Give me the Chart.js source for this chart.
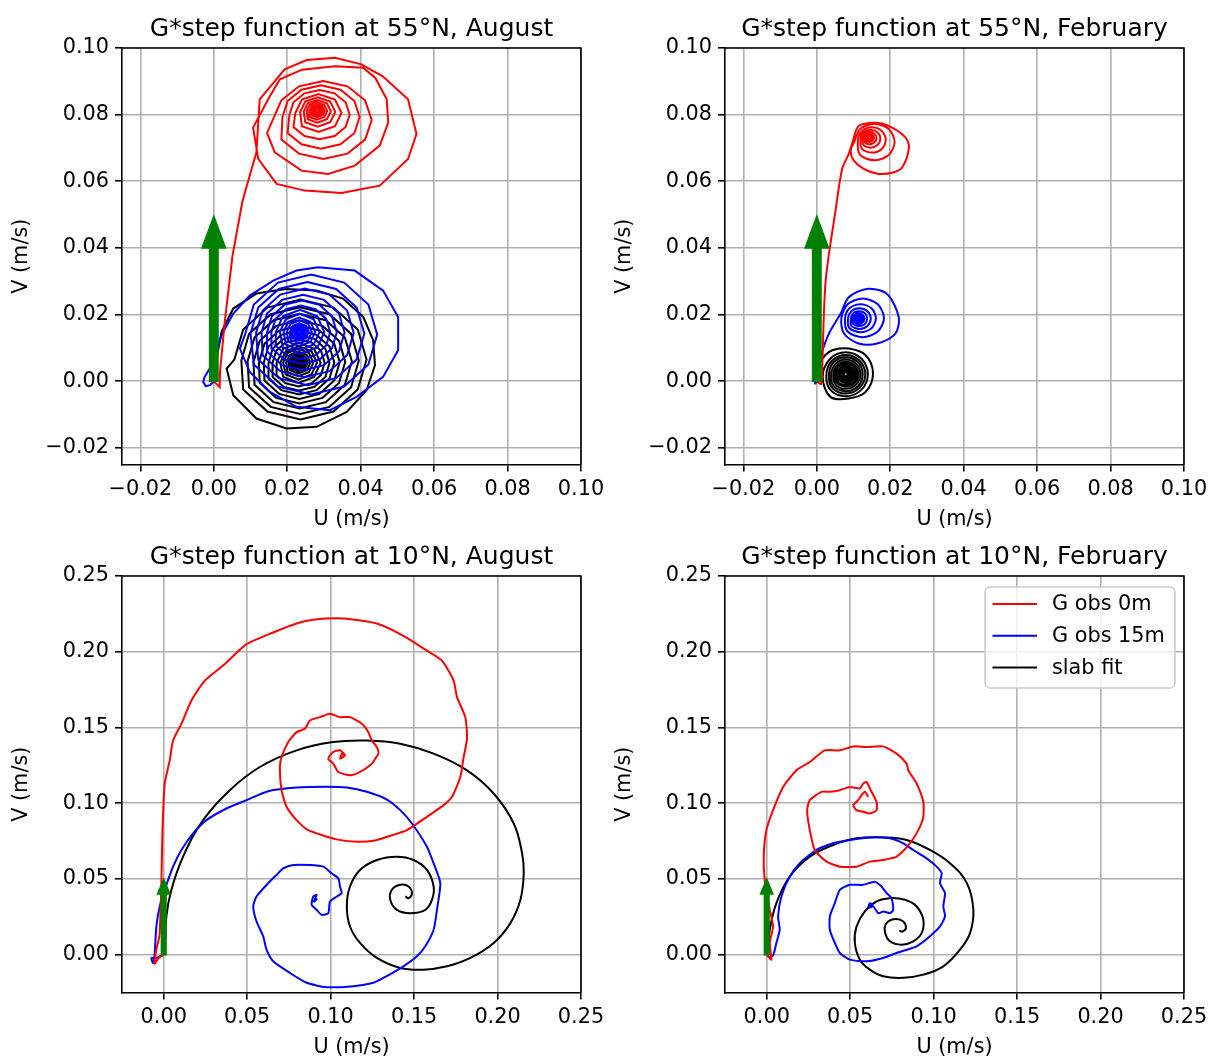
<!DOCTYPE html>
<html>
<head>
<meta charset="utf-8">
<script src="https://cdn.jsdelivr.net/npm/chart.js@4.4.1/dist/chart.umd.min.js"></script>
<style>
  html, body { margin: 0; padding: 0; background: #fff; overflow: hidden; width: 1210px; height: 1056px; }
  .panel { position: absolute; width: 605px; height: 540px; }
  canvas { display: block; }
</style>
</head>
<body>
<div class="panel" style="left:0;top:0"><canvas id="aug55" width="605" height="540"></canvas></div>
<div class="panel" style="left:603px;top:0"><canvas id="feb55" width="605" height="540"></canvas></div>
<div class="panel" style="left:0;top:528px"><canvas id="aug10" width="605" height="540"></canvas></div>
<div class="panel" style="left:603px;top:528px"><canvas id="feb10" width="605" height="540"></canvas></div>
<script>
// ---- labels & ticks ----
const seriesLabels = ['G obs 0m', 'G obs 15m', 'slab fit'];
const ticks55 = [-0.02, 0, 0.02, 0.04, 0.06, 0.08, 0.10];
const tickLabels55 = ['\u22120.02', '0.00', '0.02', '0.04', '0.06', '0.08', '0.10'];
const range55 = [-0.025, 0.10];
const ticks10 = [0, 0.05, 0.10, 0.15, 0.20, 0.25];
const tickLabels10 = ['0.00', '0.05', '0.10', '0.15', '0.20', '0.25'];
const range10 = [-0.025, 0.25];

// green step arrow: start and (dx, dy) in m/s
const arrowStart = [0, 0];
const arrowDelta = [0, 0.04];

// ---- 55N, August ----
const aug55Obs0 = [[0,0],[.0016,-.0018],[.0017,.0030],[.0030,.0180],[.0051,.0377],[.0078,.0540],[.0116,.0687],[.0125,.0846],[.0193,.0936],[.0253,.0964],[.0330,.0971],[.0402,.0951],[.0460,.0915],[.0529,.0846],[.0552,.0742],[.0529,.0667],[.0452,.0587],[.0348,.0565],[.0248,.0572],[.0171,.0592],[.0121,.0667],[.0107,.0761],
  [.0150,.0850],[.0180,.0906],[.0240,.0935],[.0330,.0945],[.0407,.0941],[.0440,.0910],[.0471,.0846],[.0475,.0776],[.0452,.0707],[.0384,.0647],[.0311,.0622],[.0239,.0632],[.0166,.0687],[.0145,.0745],
  [.0184,.0843],[.0232,.0885],[.0298,.0901],[.0364,.0885],[.0412,.0843],[.0430,.0784],[.0412,.0725],[.0364,.0683],[.0298,.0667],[.0232,.0683],[.0184,.0725],
  [.0187,.0793],[.0201,.0841],[.0239,.0875],[.0292,.0888],[.0345,.0875],[.0383,.0841],[.0397,.0793],[.0383,.0745],[.0345,.0711],[.0292,.0698],[.0239,.0711],[.0201,.0745],
  [.0206,.0800],[.0217,.0837],[.0247,.0864],[.0288,.0874],[.0329,.0864],[.0359,.0837],[.0370,.0800],[.0359,.0763],[.0329,.0736],[.0288,.0726],[.0247,.0736],[.0217,.0763],
  [.0222,.0805],[.0240,.0845],[.0285,.0862],[.0330,.0845],[.0348,.0805],[.0330,.0765],[.0285,.0748],[.0240,.0765],
  [.0235,.0808],[.0249,.0839],[.0283,.0852],[.0317,.0839],[.0331,.0808],[.0317,.0777],[.0283,.0764],[.0249,.0777],
  [.0245,.0810],[.0256,.0834],[.0282,.0844],[.0308,.0834],[.0319,.0810],[.0308,.0786],[.0282,.0776],[.0256,.0786],
  [.0253,.0811],[.0261,.0829],[.0281,.0837],[.0301,.0829],[.0309,.0811],[.0301,.0793],[.0281,.0785],[.0261,.0793],
  [.0260,.0811],[.0266,.0824],[.0281,.0830],[.0296,.0824],[.0302,.0811],[.0296,.0798],[.0281,.0792],[.0266,.0798],
  [.0266,.0811],[.0270,.0821],[.0281,.0825],[.0292,.0821],[.0296,.0811],[.0292,.0801],[.0281,.0797],[.0270,.0801],
  [.0271,.0811],[.0274,.0817],[.0281,.0820],[.0288,.0817],[.0291,.0811],[.0288,.0805],[.0281,.0802],[.0274,.0805],
  [.0275,.0811],[.0277,.0815],[.0281,.0816],[.0285,.0815],[.0287,.0811],[.0285,.0807],[.0281,.0806],[.0277,.0807],[.0281,.0811]];

const aug55Obs15 = [[0,0],[-.0010,-.0012],[-.0022,-.0015],[-.0029,-.0002],[-.0025,.0013],[-.0010,.0040],[.0005,.0080],[.0021,.0138],[.0053,.0203],[.0098,.0257],[.0162,.0302],[.0225,.0332],[.0284,.0342],[.0384,.0332],[.0461,.0272],[.0502,.0193],[.0502,.0093],[.0461,.0013],[.0389,-.0047],[.0316,-.0087],[.0225,-.0077],[.0153,-.0032],[.0098,.0028],[.0071,.0098],
  [.0085,.0140],[.0109,.0230],[.0175,.0296],[.0265,.0320],[.0355,.0296],[.0421,.0230],[.0445,.0140],[.0421,.0050],[.0355,-.0016],[.0265,-.0040],[.0175,-.0016],[.0109,.0050],
  [.0100,.0143],[.0121,.0221],[.0177,.0277],[.0255,.0298],[.0333,.0277],[.0389,.0221],[.0410,.0143],[.0389,.0065],[.0333,.0009],[.0255,-.0012],[.0177,.0009],[.0121,.0065],
  [.0115,.0145],[.0133,.0212],[.0181,.0260],[.0248,.0278],[.0315,.0260],[.0363,.0212],[.0381,.0145],[.0363,.0078],[.0315,.0030],[.0248,.0012],[.0181,.0030],[.0133,.0078],
  [.0130,.0146],[.0145,.0203],[.0186,.0244],[.0243,.0259],[.0300,.0244],[.0341,.0203],[.0356,.0146],[.0341,.0089],[.0300,.0048],[.0243,.0033],[.0186,.0048],[.0145,.0089],
  [.0145,.0147],[.0158,.0195],[.0192,.0229],[.0240,.0242],[.0288,.0229],[.0322,.0195],[.0335,.0147],[.0322,.0099],[.0288,.0065],[.0240,.0052],[.0192,.0065],[.0158,.0099],
  [.0157,.0147],[.0168,.0187],[.0197,.0216],[.0237,.0227],[.0277,.0216],[.0306,.0187],[.0317,.0147],[.0306,.0107],[.0277,.0078],[.0237,.0067],[.0197,.0078],[.0168,.0107],
  [.0169,.0148],[.0188,.0195],[.0235,.0214],[.0282,.0195],[.0301,.0148],[.0282,.0101],[.0235,.0082],[.0188,.0101],
  [.0180,.0148],[.0196,.0186],[.0234,.0202],[.0272,.0186],[.0288,.0148],[.0272,.0110],[.0234,.0094],[.0196,.0110],
  [.0190,.0148],[.0203,.0178],[.0233,.0191],[.0263,.0178],[.0276,.0148],[.0263,.0118],[.0233,.0105],[.0203,.0118],
  [.0199,.0148],[.0209,.0172],[.0233,.0182],[.0257,.0172],[.0267,.0148],[.0257,.0124],[.0233,.0114],[.0209,.0124],
  [.0207,.0148],[.0215,.0166],[.0233,.0174],[.0251,.0166],[.0259,.0148],[.0251,.0130],[.0233,.0122],[.0215,.0130],
  [.0213,.0148],[.0219,.0162],[.0233,.0168],[.0247,.0162],[.0253,.0148],[.0247,.0134],[.0233,.0128],[.0219,.0134],
  [.0219,.0148],[.0223,.0158],[.0233,.0162],[.0243,.0158],[.0247,.0148],[.0243,.0138],[.0233,.0134],[.0223,.0138],
  [.0224,.0148],[.0227,.0154],[.0233,.0157],[.0239,.0154],[.0242,.0148],[.0239,.0142],[.0233,.0139],[.0227,.0142],
  [.0228,.0148],[.0229,.0152],[.0233,.0153],[.0237,.0152],[.0238,.0148],[.0237,.0144],[.0233,.0143],[.0229,.0144],[.0233,.0148]];

const aug55Slab = [[0,0],[.0008,.0070],[.0021,.0148],[.0053,.0218],[.0116,.0263],[.0196,.0277],[.0280,.0272],[.0352,.0248],[.0407,.0193],[.0434,.0123],[.0439,.0048],[.0416,-.0027],[.0362,-.0092],[.0280,-.0137],[.0198,-.0142],[.0116,-.0112],[.0053,-.0042],[.0035,.0038],
  [.0056,.0065],[.0080,.0155],[.0146,.0221],[.0236,.0245],[.0326,.0221],[.0392,.0155],[.0416,.0065],[.0392,-.0025],[.0326,-.0091],[.0236,-.0115],[.0146,-.0091],[.0080,-.0025],
  [.0075,.0062],[.0096,.0142],[.0155,.0201],[.0235,.0222],[.0315,.0201],[.0374,.0142],[.0395,.0062],[.0374,-.0018],[.0315,-.0077],[.0235,-.0098],[.0155,-.0077],[.0096,-.0018],
  [.0092,.0060],[.0111,.0131],[.0163,.0183],[.0234,.0202],[.0305,.0183],[.0357,.0131],[.0376,.0060],[.0357,-.0011],[.0305,-.0063],[.0234,-.0082],[.0163,-.0063],[.0111,-.0011],
  [.0108,.0058],[.0125,.0121],[.0170,.0166],[.0233,.0183],[.0296,.0166],[.0341,.0121],[.0358,.0058],[.0341,-.0005],[.0296,-.0050],[.0233,-.0067],[.0170,-.0050],[.0125,-.0005],
  [.0123,.0057],[.0138,.0112],[.0178,.0152],[.0233,.0167],[.0288,.0152],[.0328,.0112],[.0343,.0057],[.0328,.0002],[.0288,-.0038],[.0233,-.0053],[.0178,-.0038],[.0138,.0002],
  [.0136,.0056],[.0149,.0104],[.0184,.0139],[.0232,.0152],[.0280,.0139],[.0315,.0104],[.0328,.0056],[.0315,.0008],[.0280,-.0027],[.0232,-.0040],[.0184,-.0027],[.0149,.0008],
  [.0149,.0055],[.0160,.0097],[.0190,.0127],[.0232,.0138],[.0274,.0127],[.0304,.0097],[.0315,.0055],[.0304,.0013],[.0274,-.0017],[.0232,-.0028],[.0190,-.0017],[.0160,.0013],
  [.0160,.0055],[.0170,.0091],[.0195,.0116],[.0231,.0126],[.0267,.0116],[.0292,.0091],[.0302,.0055],[.0292,.0019],[.0267,-.0006],[.0231,-.0016],[.0195,-.0006],[.0170,.0019],
  [.0171,.0055],[.0189,.0097],[.0231,.0115],[.0273,.0097],[.0291,.0055],[.0273,.0013],[.0231,-.0005],[.0189,.0013],
  [.0181,.0055],[.0196,.0090],[.0231,.0105],[.0266,.0090],[.0281,.0055],[.0266,.0020],[.0231,.0005],[.0196,.0020],
  [.0189,.0056],[.0201,.0085],[.0230,.0097],[.0259,.0085],[.0271,.0056],[.0259,.0027],[.0230,.0015],[.0201,.0027],
  [.0197,.0056],[.0207,.0079],[.0230,.0089],[.0253,.0079],[.0263,.0056],[.0253,.0033],[.0230,.0023],[.0207,.0033],
  [.0204,.0056],[.0212,.0074],[.0230,.0082],[.0248,.0074],[.0256,.0056],[.0248,.0038],[.0230,.0030],[.0212,.0038],
  [.0210,.0056],[.0216,.0070],[.0230,.0076],[.0244,.0070],[.0250,.0056],[.0244,.0042],[.0230,.0036],[.0216,.0042],
  [.0215,.0056],[.0219,.0067],[.0230,.0071],[.0241,.0067],[.0245,.0056],[.0241,.0045],[.0230,.0041],[.0219,.0045],
  [.0219,.0056],[.0222,.0064],[.0230,.0067],[.0238,.0064],[.0241,.0056],[.0238,.0048],[.0230,.0045],[.0222,.0048],
  [.0223,.0056],[.0225,.0061],[.0230,.0063],[.0235,.0061],[.0237,.0056],[.0235,.0051],[.0230,.0049],[.0225,.0051],
  [.0226,.0056],[.0227,.0059],[.0230,.0060],[.0233,.0059],[.0234,.0056],[.0233,.0053],[.0230,.0052],[.0227,.0053],[.0230,.0056]];

// ---- 55N, February ----
const feb55Obs0 = [[0,0],[.0012,-.0008],[.0015,.0050],[.0024,.0300],[.0051,.0512],[.0069,.0637],[.0087,.0682],[.0096,.0712],[.0114,.0766],[.0160,.0776],[.0196,.0766],[.0242,.0731],[.0251,.0701],[.0233,.0642],[.0210,.0627],[.0169,.0622],[.0128,.0637],[.0101,.0662],[.0092,.0692],
  [.0102,.0718],[.0118,.0757],[.0157,.0773],[.0196,.0757],[.0212,.0718],[.0196,.0679],[.0157,.0663],[.0118,.0679],
  [.0112,.0724],[.0123,.0751],[.0150,.0762],[.0177,.0751],[.0188,.0724],[.0177,.0697],[.0150,.0686],[.0123,.0697],
  [.0119,.0728],[.0127,.0747],[.0146,.0755],[.0165,.0747],[.0173,.0728],[.0165,.0709],[.0146,.0701],[.0127,.0709],
  [.0125,.0730],[.0131,.0743],[.0144,.0749],[.0157,.0743],[.0163,.0730],[.0157,.0717],[.0144,.0711],[.0131,.0717],
  [.0130,.0731],[.0134,.0740],[.0143,.0744],[.0152,.0740],[.0156,.0731],[.0152,.0722],[.0143,.0718],[.0134,.0722],
  [.0134,.0731],[.0137,.0737],[.0143,.0740],[.0149,.0737],[.0152,.0731],[.0149,.0725],[.0143,.0722],[.0137,.0725],
  [.0138,.0731],[.0139,.0735],[.0143,.0736],[.0147,.0735],[.0148,.0731],[.0147,.0727],[.0143,.0726],[.0139,.0727],[.0143,.0731]];

const feb55Obs15 = [[0,0],[-.0005,-.0007],[.0000,.0020],[.0010,.0073],[.0033,.0143],[.0065,.0203],[.0087,.0252],[.0136,.0277],[.0191,.0262],[.0223,.0193],[.0214,.0143],[.0164,.0113],[.0114,.0113],[.0074,.0143],
  [.0067,.0190],[.0084,.0231],[.0125,.0248],[.0166,.0231],[.0183,.0190],[.0166,.0149],[.0125,.0132],[.0084,.0149],
  [.0077,.0189],[.0089,.0219],[.0119,.0231],[.0149,.0219],[.0161,.0189],[.0149,.0159],[.0119,.0147],[.0089,.0159],
  [.0085,.0188],[.0094,.0210],[.0116,.0219],[.0138,.0210],[.0147,.0188],[.0138,.0166],[.0116,.0157],[.0094,.0166],
  [.0093,.0188],[.0099,.0204],[.0115,.0210],[.0131,.0204],[.0137,.0188],[.0131,.0172],[.0115,.0166],[.0099,.0172],
  [.0098,.0188],[.0103,.0199],[.0114,.0204],[.0125,.0199],[.0130,.0188],[.0125,.0177],[.0114,.0172],[.0103,.0177],
  [.0103,.0188],[.0106,.0196],[.0114,.0199],[.0122,.0196],[.0125,.0188],[.0122,.0180],[.0114,.0177],[.0106,.0180],
  [.0107,.0188],[.0109,.0193],[.0114,.0195],[.0119,.0193],[.0121,.0188],[.0119,.0183],[.0114,.0181],[.0109,.0183],
  [.0110,.0188],[.0111,.0191],[.0114,.0192],[.0117,.0191],[.0118,.0188],[.0117,.0185],[.0114,.0184],[.0111,.0185],[.0114,.0188]];

const feb55Slab = [[0,0],[.0005,.0040],[.0015,.0068],[.0042,.0093],[.0087,.0098],[.0133,.0078],[.0153,.0023],[.0133,-.0032],[.0087,-.0052],[.0037,-.0047],[.0016,.0013],
  [.0037,.0068],[.0079,.0087],[.0121,.0068],[.0139,.0021],[.0121,-.0026],[.0079,-.0045],[.0037,-.0026],
  [.0026,.0021],[.0042,.0062],[.0079,.0079],[.0116,.0062],[.0132,.0021],[.0116,-.0020],[.0079,-.0037],[.0042,-.0020],
  [.0033,.0021],[.0046,.0057],[.0079,.0072],[.0112,.0057],[.0125,.0021],[.0112,-.0015],[.0079,-.0030],[.0046,-.0015],
  [.0039,.0021],[.0051,.0052],[.0079,.0065],[.0107,.0052],[.0119,.0021],[.0107,-.0010],[.0079,-.0023],[.0051,-.0010],
  [.0045,.0021],[.0055,.0047],[.0079,.0058],[.0103,.0047],[.0113,.0021],[.0103,-.0005],[.0079,-.0016],[.0055,-.0005],
  [.0050,.0021],[.0058,.0044],[.0079,.0053],[.0100,.0044],[.0108,.0021],[.0100,-.0002],[.0079,-.0011],[.0058,-.0002],
  [.0055,.0021],[.0062,.0039],[.0079,.0047],[.0096,.0039],[.0103,.0021],[.0096,.0003],[.0079,-.0005],[.0062,.0003],
  [.0059,.0021],[.0065,.0037],[.0079,.0043],[.0093,.0037],[.0099,.0021],[.0093,.0005],[.0079,-.0001],[.0065,.0005],
  [.0063,.0021],[.0068,.0034],[.0079,.0039],[.0090,.0034],[.0095,.0021],[.0090,.0008],[.0079,.0003],[.0068,.0008],
  [.0066,.0021],[.0070,.0031],[.0079,.0035],[.0088,.0031],[.0092,.0021],[.0088,.0011],[.0079,.0007],[.0070,.0011],
  [.0069,.0021],[.0072,.0029],[.0079,.0032],[.0086,.0029],[.0089,.0021],[.0086,.0013],[.0079,.0010],[.0072,.0013],
  [.0072,.0021],[.0074,.0027],[.0079,.0029],[.0084,.0027],[.0086,.0021],[.0084,.0015],[.0079,.0013],[.0074,.0015],
  [.0074,.0021],[.0075,.0025],[.0079,.0026],[.0083,.0025],[.0084,.0021],[.0083,.0017],[.0079,.0016],[.0075,.0017]];

// ---- 10N, August ----
const aug10Obs0 = [[0,0],[-.0030,-.0020],[-.0055,-.0060],[-.0045,.0030],[-.0032,.0090],[-.0024,.0143],[-.0014,.0472],[-.0008,.0801],[.0006,.1129],[.0036,.1283],[.0056,.1414],[.0106,.1524],[.0166,.1678],[.0246,.1809],[.0366,.1919],[.0496,.2050],[.0656,.2127],[.0796,.2186],[.0896,.2211],[.1076,.2219],[.1277,.2186],[.1436,.2105],[.1577,.2007],[.1667,.1941],[.1737,.1809],[.1757,.1700],[.1807,.1568],[.1817,.1425],[.1797,.1305],[.1777,.1173],[.1727,.1042],[.1677,.0987],[.1577,.0910],[.1457,.0822],[.1337,.0778],[.1256,.0752],[.1157,.0746],[.1037,.0761],[.0866,.0822],[.0796,.0888],[.0736,.0976],[.0706,.1086],[.0696,.1239],[.0706,.1305],[.0746,.1404],[.0796,.1469],[.0846,.1491],[.0876,.1546],[.0936,.1568],[.0996,.1590],[.1056,.1568],[.1116,.1568],[.1187,.1524],[.1226,.1469],[.1247,.1414],[.1277,.1371],[.1287,.1327],[.1267,.1294],[.1247,.1261],[.1176,.1206],[.1116,.1184],[.1046,.1206],[.1016,.1261],[.0986,.1294],[.1016,.1338],[.1056,.1349],[.1086,.1316],[.1056,.1294],[.1070,.1330],[.1080,.1310]];

const aug10Obs15 = [[0,0],[-.0040,-.0020],[-.0074,-.0022],[-.0064,-.0055],[-.0054,.0011],[-.0044,.0186],[-.0024,.0318],[.0006,.0428],[.0056,.0581],[.0106,.0691],[.0176,.0801],[.0256,.0888],[.0376,.0965],[.0496,.1020],[.0626,.1079],[.0796,.1103],[.0976,.1108],[.1097,.1103],[.1217,.1075],[.1337,.1024],[.1417,.0954],[.1487,.0866],[.1577,.0713],[.1617,.0603],[.1657,.0472],[.1637,.0296],[.1617,.0164],[.1567,.0055],[.1517,-.0011],[.1436,-.0077],[.1316,-.0154],[.1256,-.0186],[.1136,-.0208],[.0976,-.0215],[.0856,-.0186],[.0756,-.0121],[.0656,-.0044],[.0616,.0033],[.0596,.0121],[.0556,.0219],[.0536,.0318],[.0556,.0384],[.0626,.0472],[.0676,.0526],[.0716,.0570],[.0776,.0592],[.0876,.0592],[.0956,.0581],[.1006,.0537],[.1046,.0504],[.1056,.0450],[.1066,.0406],[.1037,.0384],[.0996,.0351],[.0986,.0274],[.0946,.0263],[.0916,.0296],[.0886,.0329],[.0896,.0384],[.0916,.0395],[.0900,.0350],[.0920,.0370]];

const aug10Slab = [[0,0],[.0006,.0033],[.0016,.0252],[.0046,.0428],[.0116,.0647],[.0236,.0888],[.0396,.1086],[.0576,.1239],[.0796,.1349],[.1016,.1404],[.1217,.1414],[.1417,.1393],[.1617,.1327],[.1817,.1217],[.1977,.1064],[.2097,.0866],[.2147,.0669],[.2157,.0537],[.2137,.0362],[.2077,.0208],[.1977,.0077],[.1837,-.0022],[.1697,-.0077],[.1556,-.0099],[.1417,-.0088],[.1277,-.0022],[.1176,.0077],[.1116,.0186],[.1097,.0318],[.1116,.0450],[.1176,.0559],[.1277,.0625],[.1397,.0647],[.1497,.0625],[.1577,.0559],[.1617,.0450],[.1607,.0362],[.1567,.0296],[.1477,.0274],[.1397,.0296],[.1357,.0362],[.1367,.0428],[.1417,.0461],[.1467,.0450],[.1487,.0406],[.1467,.0373],[.1447,.0384]];

// ---- 10N, February ----
const feb10Obs0 = [[0,0],[.0028,-.0033],[.0018,.0077],[.0038,.0186],[.0018,.0296],[-.0012,.0493],[-.0018,.0647],[-.0002,.0822],[.0038,.0954],[.0098,.1107],[.0178,.1217],[.0258,.1272],[.0348,.1349],[.0438,.1349],[.0518,.1375],[.0598,.1371],[.0698,.1375],[.0778,.1327],[.0838,.1261],[.0848,.1217],[.0898,.1130],[.0938,.1009],[.0938,.0910],[.0908,.0822],[.0858,.0735],[.0778,.0647],[.0698,.0625],[.0618,.0614],[.0538,.0581],[.0438,.0581],[.0358,.0614],[.0288,.0691],[.0258,.0822],[.0242,.0954],[.0258,.1020],[.0328,.1075],[.0378,.1075],[.0438,.1086],[.0498,.1107],[.0558,.1097],[.0578,.1130],[.0598,.1140],[.0628,.1075],[.0658,.1009],[.0658,.0954],[.0618,.0932],[.0578,.0943],[.0538,.0954],[.0518,.0987],[.0548,.1020],[.0568,.1053],[.0588,.1075],[.0608,.1042]];

const feb10Obs15 = [[0,0],[.0020,-.0020],[.0040,.0000],[.0058,.0077],[.0078,.0164],[.0068,.0252],[.0088,.0384],[.0138,.0515],[.0198,.0603],[.0298,.0691],[.0398,.0735],[.0498,.0757],[.0618,.0774],[.0738,.0768],[.0818,.0735],[.0878,.0691],[.0958,.0636],[.1018,.0581],[.1048,.0537],[.1038,.0472],[.1068,.0406],[.1058,.0318],[.1068,.0252],[.1038,.0186],[.0978,.0121],[.0898,.0055],[.0778,.0011],[.0698,-.0022],[.0598,-.0044],[.0498,-.0033],[.0438,.0011],[.0408,.0077],[.0378,.0164],[.0378,.0252],[.0408,.0340],[.0438,.0428],[.0498,.0461],[.0578,.0461],[.0648,.0482],[.0688,.0450],[.0718,.0406],[.0748,.0373],[.0758,.0296],[.0738,.0274],[.0698,.0285],[.0668,.0274],[.0638,.0318],[.0608,.0307],[.0618,.0340],[.0638,.0329]];

const feb10Slab = [[0,0],[.0008,.0011],[.0018,.0164],[.0058,.0340],[.0138,.0515],[.0258,.0647],[.0398,.0724],[.0538,.0768],[.0698,.0774],[.0838,.0757],[.0978,.0691],[.1098,.0603],[.1199,.0472],[.1238,.0296],[.1218,.0142],[.1158,.0033],[.1058,-.0077],[.0938,-.0132],[.0818,-.0153],[.0698,-.0143],[.0618,-.0099],[.0558,-.0033],[.0528,.0077],[.0538,.0186],[.0588,.0285],[.0658,.0351],[.0738,.0373],[.0828,.0362],[.0898,.0318],[.0938,.0230],[.0928,.0142],[.0878,.0088],[.0808,.0066],[.0738,.0088],[.0708,.0153],[.0718,.0208],[.0768,.0235],[.0818,.0219],[.0834,.0175],[.0814,.0153],[.0794,.0157]];

// ---- styling ----
const FONT = 'DejaVu Sans';
const colors = ['#ff0000', '#0000ff', '#000000'];
const CW = 605, CH = 540;
const AREA = { left: 122, top: 48, right: 581, bottom: 464.5 };

Chart.defaults.font.family = FONT;
Chart.defaults.color = '#000';

function makePanel(id, title, series, ticks, tickLabels, range, arrowSize, tensions, showLegend) {
  const axis = (isX) => ({
    type: 'linear',
    min: range[0],
    max: range[1],
    afterBuildTicks: s => { s.ticks = ticks.map(v => ({ value: v })); },
    afterFit: s => {
      // pin the plot box to the same place as the original figure
      if (isX) s.height = CH - AREA.bottom;
      else s.width = AREA.left;
      s.paddingLeft = s.paddingRight = s.paddingTop = s.paddingBottom = 0;
    },
    ticks: {
      autoSkip: false, maxRotation: 0, padding: 6,
      font: { size: 20.8 }, color: '#000',
      callback: (v, i) => tickLabels[i]
    },
    grid: { color: '#b0b0b0', lineWidth: 1.6, tickColor: '#000', tickLength: 7, tickWidth: 1.6 },
    border: { color: '#000', width: 1.6 },
    title: {
      display: true, text: isX ? 'U (m/s)' : 'V (m/s)', color: '#000',
      font: { size: 20.8 },
      padding: isX ? { top: 0, bottom: 8 } : { top: 9, bottom: 0 }
    }
  });

  const framePlugin = {
    id: 'frame',
    afterDatasetsDraw(chart) {
      const { ctx, scales } = chart;
      // green step arrow
      const px = v => scales.x.getPixelForValue(v), py = v => scales.y.getPixelForValue(v);
      const [x0, y0] = arrowStart, [dx, dy] = arrowDelta;
      const w = arrowSize.shaft / 2, hw = arrowSize.headW / 2;
      ctx.save();
      ctx.beginPath();
      ctx.moveTo(px(x0 - w), py(y0));
      ctx.lineTo(px(x0 - w), py(y0 + dy));
      ctx.lineTo(px(x0 - hw), py(y0 + dy));
      ctx.lineTo(px(x0 + dx), py(y0 + dy + arrowSize.headL));
      ctx.lineTo(px(x0 + hw), py(y0 + dy));
      ctx.lineTo(px(x0 + w), py(y0 + dy));
      ctx.lineTo(px(x0 + w), py(y0));
      ctx.closePath();
      ctx.fillStyle = '#008000';
      ctx.strokeStyle = '#008000';
      ctx.lineWidth = 1.5;
      ctx.fill();
      ctx.stroke();
      ctx.restore();
    },
    afterDraw(chart) {
      const { ctx, chartArea: a } = chart;
      ctx.save();
      // top & right spines
      ctx.strokeStyle = '#000';
      ctx.lineWidth = 1.6;
      ctx.beginPath();
      ctx.moveTo(a.left, a.top); ctx.lineTo(a.right, a.top); ctx.lineTo(a.right, a.bottom);
      ctx.stroke();
      // title
      ctx.fillStyle = '#000';
      ctx.font = '25px "' + FONT + '"';
      ctx.textAlign = 'center';
      ctx.textBaseline = 'alphabetic';
      ctx.fillText(title, (a.left + a.right) / 2, a.top - 12.5);
      // legend
      if (showLegend) {
        const bw = 190, bh = 101;
        const bx = a.right - 9 - bw, by = a.top + 11;
        ctx.beginPath();
        ctx.roundRect(bx, by, bw, bh, 5);
        ctx.fillStyle = 'rgba(255,255,255,0.8)';
        ctx.fill();
        ctx.strokeStyle = '#cccccc';
        ctx.lineWidth = 1.6;
        ctx.stroke();
        ctx.font = '20.8px "' + FONT + '"';
        ctx.textAlign = 'left';
        ctx.textBaseline = 'middle';
        chart.data.datasets.forEach((ds, i) => {
          const yy = by + 17 + i * 31.7;
          ctx.strokeStyle = ds.borderColor;
          ctx.lineWidth = 2;
          ctx.beginPath();
          ctx.moveTo(bx + 7.5, yy); ctx.lineTo(bx + 52, yy);
          ctx.stroke();
          ctx.fillStyle = '#000';
          ctx.fillText(ds.label, bx + 67, yy + 1);
        });
      }
      ctx.restore();
    }
  };

  new Chart(document.getElementById(id), {
    type: 'scatter',
    data: {
      datasets: series.map((s, i) => ({
        label: seriesLabels[i],
        data: s,
        showLine: true,
        borderColor: colors[i],
        backgroundColor: colors[i],
        borderWidth: 2,
        pointRadius: 0,
        pointHoverRadius: 0,
        tension: tensions[i]
      }))
    },
    options: {
      responsive: false,
      animation: false,
      devicePixelRatio: 1,
      layout: { padding: { left: 0, top: AREA.top, right: CW - AREA.right, bottom: 0 } },
      plugins: { legend: { display: false }, tooltip: { enabled: false }, title: { display: false } },
      scales: { x: axis(true), y: axis(false) }
    },
    plugins: [framePlugin]
  });
}

const arrowTop = { shaft: 0.0023, headW: 0.0064, headL: 0.0095 };
const arrowBottom = { shaft: 0.0028, headW: 0.0074, headL: 0.0100 };

makePanel('aug55', 'G*step function at 55\u00b0N, August', [aug55Obs0, aug55Obs15, aug55Slab], ticks55, tickLabels55, range55, arrowTop, [0, 0, 0], false);
makePanel('feb55', 'G*step function at 55\u00b0N, February', [feb55Obs0, feb55Obs15, feb55Slab], ticks55, tickLabels55, range55, arrowTop, [0.3, 0.3, 0.35], false);
makePanel('aug10', 'G*step function at 10\u00b0N, August', [aug10Obs0, aug10Obs15, aug10Slab], ticks10, tickLabels10, range10, arrowBottom, [0.2, 0.2, 0.4], false);
makePanel('feb10', 'G*step function at 10\u00b0N, February', [feb10Obs0, feb10Obs15, feb10Slab], ticks10, tickLabels10, range10, arrowBottom, [0.2, 0.2, 0.4], true);
</script>
</body>
</html>
